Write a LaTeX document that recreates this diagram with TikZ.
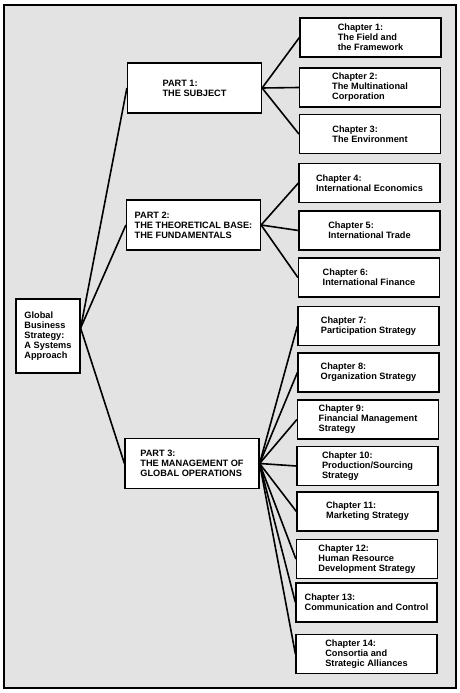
\documentclass[tikz,border=0pt]{standalone}
\usepackage{fontspec}
\setmainfont{Liberation Sans}
\usepackage{tikz}
\usetikzlibrary{positioning}
\definecolor{paper}{rgb}{0.89,0.89,0.89}

\begin{document}
\begin{tikzpicture}[x=1pt, y=-1pt,
		root/.style = {rectangle, draw=black, fill=white, line width=1.2pt, minimum width=64, minimum height=74, align=left, inner sep=2pt},
		part/.style = {rectangle, draw=black, fill=white, line width=1.2pt, minimum width=134, minimum height=50, align=left, inner sep=2pt},
		chap/.style = {rectangle, draw=black, fill=white, line width=1.2pt, minimum width=141, minimum height=39, align=left, inner sep=2pt},
		l/.style = {line width=1.6pt, black}
		]
		\useasboundingbox (0,0) rectangle (460,693);
		\draw[line width=1.2pt, fill=paper] (4,5) rectangle (456,688);
		
		\begin{scope}[font=\fontsize{9.2}{10}\selectfont\bfseries]
		% === === Nodes === ===
		\node[root]	(gbs)	at	(48, 336)		{Global\\Business\\Strategy:\\A Systems\\Approach};
		\node[part]	(p1)	at	(194.5, 88)		{PART 1:\\THE SUBJECT};
		\node[part]	(p2)	at	(193.5, 225)	{PART 2:\\THE THEORETICAL BASE:\\THE FUNDAMENTALS};
		\node[part]	(p3)	at	(192, 463.5)	{PART 3:\\THE MANAGEMENT OF\\GLOBAL OPERATIONS};
		
		\node[chap]	(c1)	at	(370.5, 37.5)	{Chapter 1:\\The Field and\\the Framework};
		\node[chap]	(c2)	at	(370, 87.5)		{Chapter 2:\\The Multinational\\Corporation};
		\node[chap]	(c3)	at	(370, 134)		{Chapter 3:\\The Environment};
		\node[chap]	(c4)	at	(369.5, 183)	{Chapter 4:\\International Economics};
		\node[chap]	(c5)	at	(369.5, 230.5)	{Chapter 5:\\International Trade};
		\node[chap]	(c6)	at	(369, 277.5)	{Chapter 6:\\International Finance};
		\node[chap]	(c7)	at	(368.5, 326)	{Chapter 7:\\Participation Strategy};
		\node[chap]	(c8)	at	(368.5, 372.5)	{Chapter 8:\\Organization Strategy};
		\node[chap]	(c9)	at	(368, 419.5)	{Chapter 9:\\Financial Management\\Strategy};
		\node[chap]	(c10)	at	(367.5, 466)	{Chapter 10:\\Production/Sourcing\\Strategy};
		\node[chap]	(c11)	at	(367.5, 511.5)	{Chapter 11:\\Marketing Strategy};
		\node[chap]	(c12)	at	(367, 559)		{Chapter 12:\\Human Resource\\Development Strategy};
		\node[chap]	(c13)	at	(366.5, 602.5)	{Chapter 13:\\Communication and Control};
		\node[chap]	(c14)	at	(366.5, 654)	{Chapter 14:\\Consortia and\\Strategic Alliances};
		\end{scope}
		
		% === === Lines === ===
		\coordinate (gj) at ([yshift=8pt]gbs.east);
		\draw[l]	(gj)	--	(p1.west);
		\draw[l]	(gj)	--	(p2.west);
		\draw[l]	(gj)	--	(p3.west);
		
		\draw[l]	(p1.east)	--	(c1.west);
		\draw[l]	(p1.east)	--	(c2.west);
		\draw[l]	(p1.east)	--	(c3.west);
		
		\draw[l]	(p2.east)	--	(c4.west);
		\draw[l]	(p2.east)	--	(c5.west);
		\draw[l]	(p2.east)	--	(c6.west);
		
		\draw[l]	(p3.east)	--	(c7.west);
		\draw[l]	(p3.east)	--	(c8.west);
		\draw[l]	(p3.east)	--	(c9.west);
		\draw[l]	(p3.east)	--	(c10.west);
		\draw[l]	(p3.east)	--	(c11.west);
		\draw[l]	(p3.east)	--	(c12.west);
		\draw[l]	(p3.east)	--	(c13.west);
		\draw[l]	(p3.east)	--	(c14.west);
		
	\end{tikzpicture}
\end{document}
